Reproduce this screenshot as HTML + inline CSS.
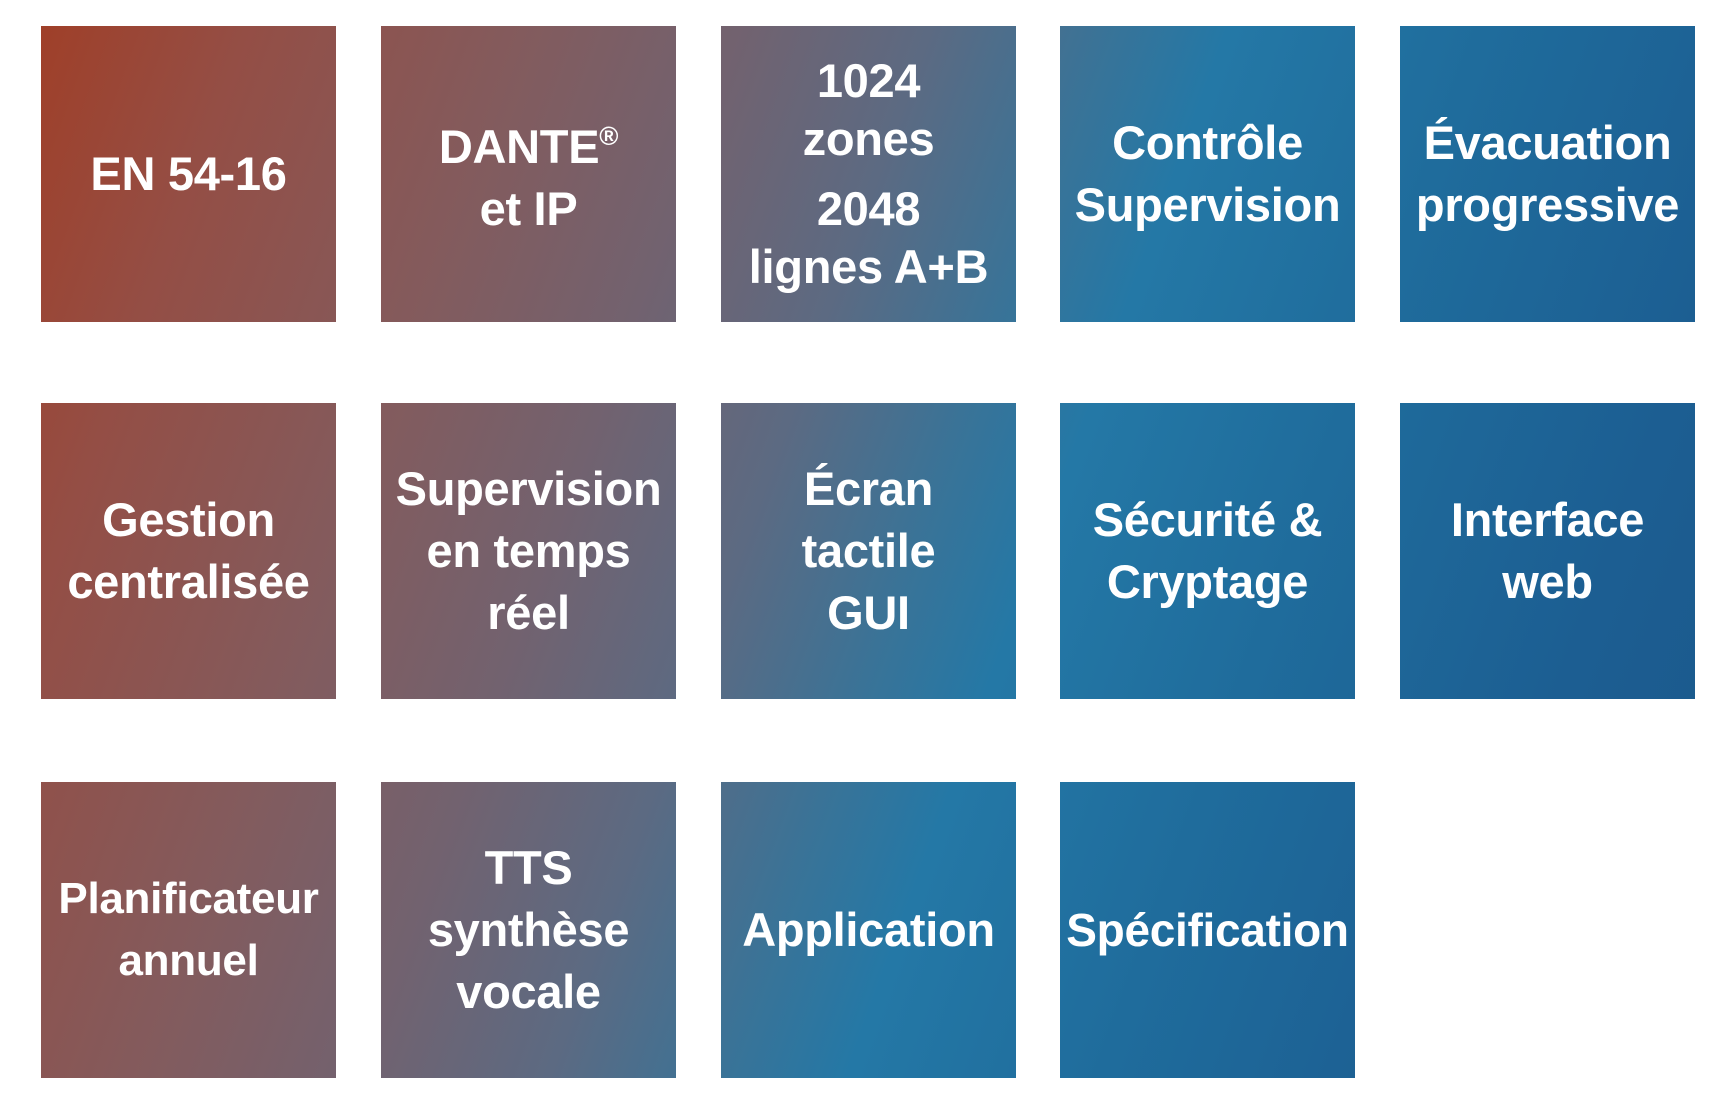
<!DOCTYPE html>
<html><head><meta charset="utf-8"><style>
html,body{margin:0;padding:0;width:1736px;height:1103px;background:#fff;overflow:hidden}
.t{position:absolute;width:295px;height:296px;display:flex;align-items:center;justify-content:center;text-align:center;color:#fff;font-family:"Liberation Sans",sans-serif;font-weight:bold;font-size:47px;line-height:62px;letter-spacing:-0.3px;
background:linear-gradient(110deg,#a23c22 0%,#944e45 12%,#835b5d 25%,#72626f 35%,#5c6a82 44%,#3a7397 52%,#2478a6 58%,#1f6c9c 70%,#1c5e92 85%,#1a5689 100%);background-attachment:fixed;background-size:1736px 1103px}
.t>div{width:100%}
</style></head><body>
<div class="t" style="left:41px;top:26px"><div>EN 54-16</div></div>
<div class="t" style="left:381px;top:26px"><div style="margin-top:-4px">DANTE<span style="font-size:26px;vertical-align:18px">®</span><br>et IP</div></div>
<div class="t" style="left:721px;top:26px"><div style="line-height:58px">1024<br>zones<div style="height:12px"></div>2048<br>lignes A+B</div></div>
<div class="t" style="left:1060px;top:26px"><div>Contrôle<br>Supervision</div></div>
<div class="t" style="left:1400px;top:26px"><div>Évacuation<br>progressive</div></div>
<div class="t" style="left:41px;top:403px"><div>Gestion<br>centralisée</div></div>
<div class="t" style="left:381px;top:403px"><div>Supervision<br>en temps<br>réel</div></div>
<div class="t" style="left:721px;top:403px"><div>Écran<br>tactile<br>GUI</div></div>
<div class="t" style="left:1060px;top:403px"><div>Sécurité &amp;<br>Cryptage</div></div>
<div class="t" style="left:1400px;top:403px"><div>Interface<br>web</div></div>
<div class="t" style="left:41px;top:782px"><div style="font-size:44px">Planificateur<br>annuel</div></div>
<div class="t" style="left:381px;top:782px"><div>TTS<br>synthèse<br>vocale</div></div>
<div class="t" style="left:721px;top:782px"><div>Application</div></div>
<div class="t" style="left:1060px;top:782px"><div style="font-size:46px">Spécification</div></div>
</body></html>
